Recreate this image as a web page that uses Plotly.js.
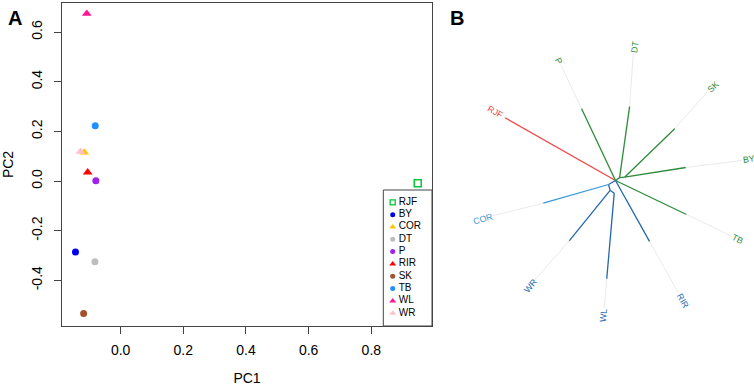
<!DOCTYPE html>
<html><head><meta charset="utf-8">
<script src="https://cdn.plot.ly/plotly-3.0.1.min.js"></script>
<style>html,body{margin:0;padding:0;background:#fff}#chart{width:754px;height:387px}</style>
</head><body><div id="chart"></div>
<script>
// ---------- Panel A : PCA ----------
const groups = ["RJF","BY","COR","DT","P","RIR","SK","TB","WL","WR"];
const pc1 = [0.948, -0.144, -0.116, -0.082, -0.079, -0.105, -0.118, -0.081, -0.108, -0.128];
const pc2 = [-0.009, -0.286, 0.115, -0.325, 0.001, 0.035, -0.534, 0.223, 0.674, 0.118];
const groupColors = ["#00C837","#0000F0","#FFC400","#BEBEBE","#A020F0","#FF0000","#A0522D","#1E90FF","#FF1493","#FFC0CB"];
const groupSymbols = ["square-open","circle","triangle-up","circle","circle","triangle-up","circle","circle","triangle-up","triangle-up"];
const xTicks = [0, 0.2, 0.4, 0.6, 0.8];
const xTickLabels = ["0.0","0.2","0.4","0.6","0.8"];
const yTicks = [-0.4, -0.2, 0, 0.2, 0.4, 0.6];
const yTickLabels = ["-0.4","-0.2","0.0","0.2","0.4","0.6"];

// ---------- Panel B : unrooted tree ----------
const treeNodes   = ["root","RJF","g1","P","DT","g2","SK","BY","TB","b1","COR","b2","WR","b3","WL","RIR"];
const treeParents = [null,"root","root","root","g1","g1","g2","g2","root","root","b1","b1","b2","b2","b3","root"];
const branchAngles  = [0, 150.4, 35, 115.3, 82, 5, 44, 9, -25.6, -150, -164, -75, -129, -35, -95, -60.8];
const branchLengths = [0, 127, 5, 79.6, 72, 5, 70, 62, 78.7, 8, 68, 6, 65, 5, 86, 70];
const treeTips = ["RJF","P","DT","SK","BY","TB","COR","WR","WL","RIR"];
const nodeClade = ["none","red","green","green","green","green","green","green","green","blue","lightblue","blue","blue","blue","blue","blue"];

const FONT = "Liberation Sans, Arial, Helvetica, sans-serif";
const cladeColors = {red:"#F24646", green:"#2E8B3A", blue:"#2466AE", lightblue:"#3A98D8"};

const W = 754, H = 387;
const root = {x: 615.5, y: 180.5};
const tipRadius = 128;

const pos = {};
treeNodes.forEach((n, i) => {
  if (treeParents[i] === null) { pos[n] = {x: root.x, y: root.y}; return; }
  const p = pos[treeParents[i]];
  const a = branchAngles[i] * Math.PI / 180;
  pos[n] = {x: p.x + branchLengths[i] * Math.cos(a), y: p.y - branchLengths[i] * Math.sin(a)};
});

const traces = [];

traces.push({
  type: "scatter", mode: "markers", x: pc1, y: pc2, text: groups,
  xaxis: "x", yaxis: "y", showlegend: false, hoverinfo: "text",
  marker: {color: groupColors, symbol: groupSymbols, opacity: 1,
           size: groupSymbols.map(s => s === "triangle-up" ? 8.5 : 7),
           line: {color: groupColors, width: groupSymbols.map(s => s === "square-open" ? 1.5 : 0)}}
});

Object.keys(cladeColors).forEach(c => {
  const xs = [], ys = [];
  treeNodes.forEach((n, i) => {
    if (nodeClade[i] !== c) return;
    const p = pos[treeParents[i]];
    xs.push(p.x, pos[n].x, null); ys.push(p.y, pos[n].y, null);
  });
  traces.push({type: "scatter", mode: "lines", x: xs, y: ys, xaxis: "x2", yaxis: "y2",
    showlegend: false, hoverinfo: "skip", line: {color: cladeColors[c], width: 1.3}});
});

{
  const xs = [], ys = [];
  treeTips.forEach(t => {
    const i = treeNodes.indexOf(t);
    const a = branchAngles[i] * Math.PI / 180;
    const ex = root.x + tipRadius * Math.cos(a), ey = root.y - tipRadius * Math.sin(a);
    xs.push(pos[t].x, ex, null); ys.push(pos[t].y, ey, null);
  });
  traces.push({type: "scatter", mode: "lines", x: xs, y: ys, xaxis: "x2", yaxis: "y2",
    showlegend: false, hoverinfo: "skip", line: {color: "#EBEBEB", width: 1}});
}

const legX = 392.7, legY0 = 202.3, legStep = 12.33;
const legYs = groups.map((g, i) => legY0 + i * legStep);
traces.push({type: "scatter", mode: "markers", x: groups.map(() => legX), y: legYs,
  xaxis: "x2", yaxis: "y2", showlegend: false, hoverinfo: "skip",
  marker: {color: groupColors, symbol: groupSymbols, opacity: 1,
           size: groupSymbols.map(s => s === "triangle-up" ? 6 : 5),
           line: {color: groupColors, width: groupSymbols.map(s => s === "square-open" ? 1.3 : 0)}}});
traces.push({type: "scatter", mode: "text", x: groups.map(() => legX + 6), y: legYs, text: groups,
  textposition: "middle right", xaxis: "x2", yaxis: "y2", showlegend: false, hoverinfo: "skip",
  textfont: {family: FONT, size: 10, color: "#000"}});

const annotations = [];
treeTips.forEach(t => {
  const i = treeNodes.indexOf(t);
  const th = branchAngles[i];
  const a = th * Math.PI / 180;
  const r = 129.5 + 2.9 * t.length;
  let ang = Math.cos(a) >= 0 ? -th : 180 - th;
  if (ang > 180) ang -= 360;
  annotations.push({xref: "x2", yref: "y2", x: root.x + r * Math.cos(a), y: root.y - r * Math.sin(a),
    text: t, showarrow: false, textangle: ang, xanchor: "center", yanchor: "middle",
    font: {family: FONT, size: 8.8, color: cladeColors[nodeClade[i]]}});
});
annotations.push({xref: "paper", yref: "paper", x: 15/W, y: 1 - 17.5/H, text: "<b>A</b>", showarrow: false,
  xanchor: "center", yanchor: "middle", font: {family: FONT, size: 20, color: "#000"}});
annotations.push({xref: "paper", yref: "paper", x: 457/W, y: 1 - 17.5/H, text: "<b>B</b>", showarrow: false,
  xanchor: "center", yanchor: "middle", font: {family: FONT, size: 20, color: "#000"}});

const axCommon = {showgrid: false, zeroline: false, showline: true, mirror: true, linecolor: "#444", linewidth: 1,
  ticks: "outside", ticklen: 7, tickcolor: "#444", tickfont: {family: FONT, size: 14, color: "#000"}};

const layout = {
  width: W, height: H, margin: {l: 0, r: 0, t: 0, b: 0},
  paper_bgcolor: "#fff", plot_bgcolor: "rgba(0,0,0,0)", showlegend: false,
  font: {family: FONT},
  xaxis: Object.assign({}, axCommon, {domain: [62/W, 432/W], range: [-0.187, 0.9935], anchor: "y",
    tickvals: xTicks, ticktext: xTickLabels, ticklabelstandoff: 4,
    title: {text: "PC1", font: {family: FONT, size: 14, color: "#000"}, standoff: 16}}),
  yaxis: Object.assign({}, axCommon, {domain: [1 - 326/H, 1 - 3/H], range: [-0.584, 0.717], anchor: "x",
    tickvals: yTicks, ticktext: yTickLabels, tickangle: -90, ticklabelstandoff: 6,
    title: {text: "PC2", font: {family: FONT, size: 14, color: "#000"}, standoff: 12}}),
  xaxis2: {domain: [0, 1], range: [0, W], anchor: "y2", visible: false, fixedrange: true},
  yaxis2: {domain: [0, 1], range: [H, 0], anchor: "x2", visible: false, fixedrange: true},
  shapes: [{type: "rect", xref: "x2", yref: "y2", x0: 383.3, x1: 432, y0: 190, y1: 326,
    line: {color: "#444", width: 1}, fillcolor: "rgba(0,0,0,0)"}],
  annotations: annotations
};

Plotly.newPlot("chart", traces, layout, {displayModeBar: false, staticPlot: true});
</script></body></html>
